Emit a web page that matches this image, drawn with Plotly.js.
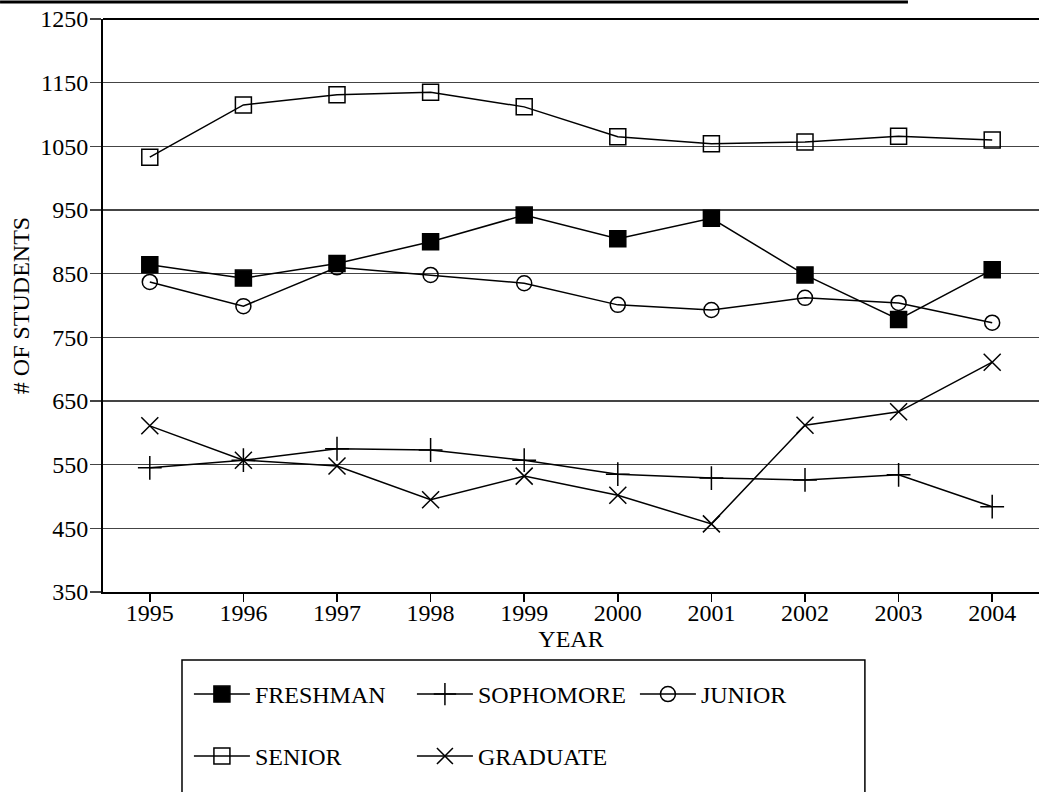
<!DOCTYPE html>
<html><head><meta charset="utf-8">
<script src="https://cdn.plot.ly/plotly-3.0.1.min.js"></script>
<style>
body{margin:0;background:#fff}#chart{width:1039px;height:792px}
svg text{font-family:"Liberation Serif","Times New Roman",serif !important;}
</style>
</head><body><div id="chart"></div>
<script>
const years = [1995,1996,1997,1998,1999,2000,2001,2002,2003,2004];
const freshman  = [864,843,866,900,942,905,937,848,778,856];
const sophomore = [545,557,575,573,557,535,529,526,534,484];
const junior    = [837,799,860,848,835,801,793,812,804,773];
const senior    = [1033,1115,1131,1135,1112,1065,1054,1057,1066,1060];
const graduate  = [611,557,548,495,532,502,457,612,633,711];
const yTicks = [350,450,550,650,750,850,950,1050,1150,1250];

const F = 'Liberation Serif';
function tr(name, y, symbol, legend, size){
  return {x: years, y: y, name: name, type:'scatter', mode:'lines+markers',
    legend: legend,
    line:{color:'#000', width:1.5},
    marker:{symbol: symbol, size: size, color:'#000', line:{color:'#000', width:1.5}}};
}
const data = [
  tr('FRESHMAN', freshman, 'square', 'legend', 16),
  tr('SOPHOMORE', sophomore, 'cross-thin-open', 'legend', 17),
  tr('JUNIOR', junior, 'circle-open', 'legend', 15),
  tr('SENIOR', senior, 'square-open', 'legend2', 16),
  tr('GRADUATE', graduate, 'x-thin-open', 'legend2', 17)
];
const legBase = {orientation:'h', xanchor:'left', yanchor:'top', entrywidth:152, entrywidthmode:'pixels',
  itemwidth:56,
  font:{family:F, size:24, color:'#000'}, bgcolor:'rgba(0,0,0,0)', borderwidth:0, traceorder:'normal'};
const layout = {
  width:1039, height:792,
  margin:{l:103, r:0, t:19, b:200},
  paper_bgcolor:'#fff', plot_bgcolor:'#fff',
  font:{family:F, size:24, color:'#000'},
  showlegend:true,
  legend: Object.assign({}, legBase, {x:0.0918, y:-0.1396}),
  legend2: Object.assign({}, legBase, {x:0.0918, y:-0.2478}),
  xaxis:{range:[1994.5,2004.5], tickvals:years, ticktext:years.map(String),
    showgrid:false, zeroline:false, showline:true, linecolor:'#000', linewidth:2,
    ticks:'outside', ticklen:8, tickwidth:1.5, tickcolor:'#000',
    ticklabelstandoff:-10,
    tickfont:{family:F, size:24, color:'#000'},
    title:{text:'YEAR', font:{family:F, size:24, color:'#000'}, standoff:4}},
  yaxis:{range:[350,1250], tickvals:yTicks, ticktext:yTicks.map(String),
    showgrid:true, gridcolor:'#444', gridwidth:1.2, zeroline:false,
    showline:true, linecolor:'#000', linewidth:2,
    ticks:'outside', ticklen:11, tickwidth:1.2, tickcolor:'#444',
    ticklabelstandoff:-3,
    tickfont:{family:F, size:24, color:'#000'},
    title:{text:'# OF STUDENTS', font:{family:F, size:24, color:'#000'}, standoff:4}},
  shapes:[
    {type:'line', xref:'paper', yref:'paper', x0:0, x1:1, y0:1, y1:1, line:{color:'#000', width:2}},
    {type:'rect', xref:'paper', yref:'paper', x0:0.0844, x1:0.814, y0:-0.1187, y1:-0.40, line:{color:'#000', width:1.5}},
    {type:'line', xref:'paper', yref:'paper', x0:-0.11, x1:0.86, y0:1.0297, y1:1.0297, line:{color:'#000', width:3}}
  ]
};
Plotly.newPlot('chart', data, layout, {displayModeBar:false, staticPlot:true});
</script></body></html>
